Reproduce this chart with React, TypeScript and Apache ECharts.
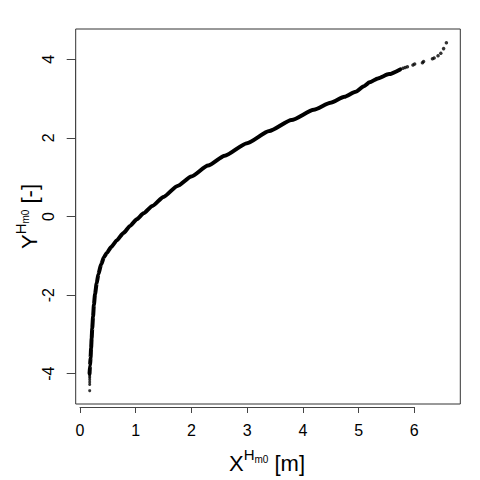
import React, { useEffect, useRef } from "react";
import * as echarts from "echarts";

// Main body of the Q-Q curve (x: Hm0 [m], y: normal quantile)
const bodyX = [0.172, 0.18, 0.19, 0.2, 0.21, 0.22, 0.235, 0.25, 0.27, 0.30, 0.33, 0.38, 0.43, 0.48, 0.56, 0.66, 0.78, 0.90, 1.02, 1.14, 1.30, 1.50, 1.75, 2.0, 2.3, 2.6, 3.0, 3.4, 3.8, 4.2, 4.5, 4.75, 4.95, 5.1, 5.2, 5.35, 5.55, 5.75];
const bodyY = [-4.0, -3.8, -3.6, -3.35, -3.1, -2.85, -2.55, -2.25, -1.98, -1.70, -1.47, -1.22, -1.04, -0.93, -0.78, -0.61, -0.42, -0.24, -0.07, 0.08, 0.27, 0.50, 0.78, 1.02, 1.30, 1.55, 1.87, 2.18, 2.46, 2.72, 2.90, 3.05, 3.18, 3.32, 3.42, 3.52, 3.63, 3.75];

// Sparse upper tail points
const tailX = [5.80, 5.84, 5.88, 5.98, 6.01, 6.15, 6.17, 6.33, 6.36, 6.43, 6.48, 6.53, 6.58];
const tailY = [3.78, 3.80, 3.82, 3.86, 3.89, 3.92, 3.95, 4.02, 4.04, 4.10, 4.16, 4.28, 4.43];

// Sparse lower tail points
const lowX = [0.174, 0.174, 0.174, 0.174, 0.174, 0.174, 0.174];
const lowY = [-4.44, -4.28, -4.22, -4.16, -4.11, -4.07, -4.03];

const xTicks = [0, 6, 1];
const yTicks = [-4, 4, 2];

const FONT = "'Liberation Sans', Arial, Helvetica, sans-serif";

function titleParts(main: string, tail: string) {
  const wMain = 0.667 * 22;
  const wH = 0.722 * 15;
  const wM0 = (0.833 + 0.556) * 10;
  const wTail = tail === " [m]" ? (0.278 + 0.278 + 0.833 + 0.278) * 22 : (0.278 + 0.278 + 0.333 + 0.278) * 22;
  const total = wMain + wH + wM0 + wTail;
  let x0 = -total / 2;
  const parts: any[] = [];
  parts.push({ type: "text", x: x0, y: 0, style: { text: main, font: `22px ${FONT}`, fill: "#000", align: "left", verticalAlign: "middle" } });
  x0 += wMain;
  parts.push({ type: "text", x: x0, y: -8.3, style: { text: "H", font: `15px ${FONT}`, fill: "#000", align: "left", verticalAlign: "middle" } });
  x0 += wH;
  parts.push({ type: "text", x: x0, y: -3.5, style: { text: "m0", font: `10px ${FONT}`, fill: "#000", align: "left", verticalAlign: "middle" } });
  x0 += wM0;
  parts.push({ type: "text", x: x0, y: 0, style: { text: tail, font: `22px ${FONT}`, fill: "#000", align: "left", verticalAlign: "middle" } });
  return parts;
}

export default function App() {
  const ref = useRef<HTMLDivElement>(null);
  useEffect(() => {
    document.body.style.margin = "0";
    const chart = echarts.init(ref.current!, null, { renderer: "svg" });
    const boxL = 75.7, boxR = 460.3, boxT = 29, boxB = 404;
    const x0px = 80, x6px = 414.3;
    const y4px = 59.3, yn4px = 373.7;
    chart.setOption({
      animation: false,
      backgroundColor: "#fff",
      grid: [
        { left: boxL, top: boxT, width: boxR - boxL, height: boxB - boxT, show: true, borderColor: "#333", borderWidth: 1, backgroundColor: "transparent" },
        { left: x0px, top: boxT, width: x6px - x0px, height: 407 - boxT, show: false },
        { left: boxL, top: y4px, width: 300, height: yn4px - y4px, show: false },
      ],
      xAxis: [
        { type: "value", gridIndex: 0, min: -0.077, max: 6.83, show: false },
        {
          type: "value", gridIndex: 1, min: xTicks[0], max: xTicks[1], interval: xTicks[2],
          axisLine: { show: true, lineStyle: { color: "#444", width: 1 } },
          axisTick: { show: true, length: 6, inside: false, lineStyle: { color: "#444", width: 1 } },
          axisLabel: { show: true, margin: 15, fontSize: 16, color: "#000", fontFamily: FONT },
          splitLine: { show: false },
        },
        { type: "value", gridIndex: 2, min: 0, max: 1, show: false },
      ],
      yAxis: [
        { type: "value", gridIndex: 0, min: -4.78, max: 4.78, show: false },
        { type: "value", gridIndex: 1, min: 0, max: 1, show: false },
        {
          type: "value", gridIndex: 2, min: yTicks[0], max: yTicks[1], interval: yTicks[2],
          axisLine: { show: true, lineStyle: { color: "#444", width: 1 } },
          axisTick: { show: true, length: 9, inside: false, lineStyle: { color: "#444", width: 1 } },
          axisLabel: { show: true, rotate: 90, margin: 19, fontSize: 16, color: "#000", fontFamily: FONT },
          splitLine: { show: false },
        },
      ],
      series: [
        {
          type: "line", xAxisIndex: 0, yAxisIndex: 0,
          data: bodyX.map((x, i) => [x, bodyY[i]]),
          showSymbol: false, symbol: "none", smooth: 0.2, smoothMonotone: "x",
          lineStyle: { color: "#000", width: 4, cap: "round", join: "round" },
          silent: true,
        },
        {
          type: "scatter", xAxisIndex: 0, yAxisIndex: 0,
          data: tailX.map((x, i) => [x, tailY[i]]),
          symbol: "circle", symbolSize: 3.5,
          itemStyle: { color: "#000" }, silent: true,
        },
        {
          type: "scatter", xAxisIndex: 0, yAxisIndex: 0,
          data: lowX.map((x, i) => [x, lowY[i]]),
          symbol: "circle", symbolSize: 3,
          itemStyle: { color: "#000" }, silent: true,
        },
      ],
      graphic: [
        { type: "group", x: 267, y: 463, children: titleParts("X", " [m]") },
        { type: "group", x: 29, y: 216.5, rotation: Math.PI / 2, children: titleParts("Y", " [-]") },
      ],
    });
    return () => chart.dispose();
  }, []);
  return <div ref={ref} style={{ width: 480, height: 480 }} />;
}
